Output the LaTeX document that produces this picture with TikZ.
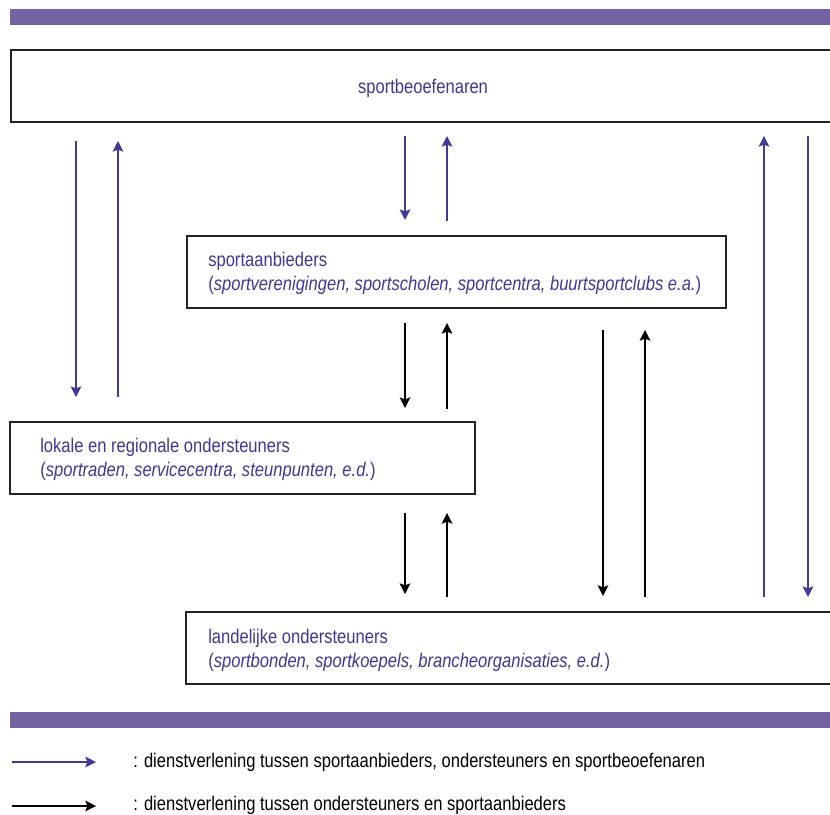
\documentclass[tikz,border=0pt]{standalone}
\usepackage{fontspec}
\setmainfont[FakeStretch=0.84]{Liberation Sans}
\usetikzlibrary{arrows.meta}
\definecolor{barpurple}{HTML}{7262A0}
\definecolor{txtpurple}{HTML}{3F3890}
\definecolor{arrpurple}{HTML}{433A94}
\definecolor{boxline}{HTML}{222222}
\begin{document}
\begin{tikzpicture}[x=0.75pt,y=-0.75pt,
  bar/.style={fill=barpurple,draw=none},
  box/.style={draw=boxline,line width=1.1pt},
  lbl/.style={text=txtpurple,font=\fontsize{14.8}{18}\selectfont,anchor=west,inner sep=0pt,align=left},
  leg/.style={text=black,font=\fontsize{14.8}{18}\selectfont,anchor=west,inner sep=0pt},
  tip/.style={-{Stealth[length=8pt,width=8pt,inset=1.5pt]}},
  parr/.style={tip,draw=arrpurple,line width=0.9pt},
  barr/.style={tip,draw=black,line width=0.9pt}]
\useasboundingbox (0,0) rectangle (830,814);
\clip (0,0) rectangle (830,814);
% bars
\fill[bar] (10,9) rectangle (835,25);
\fill[bar] (10,712) rectangle (835,728);
% boxes
\draw[box] (11,50) rectangle (840,122);
\draw[box] (187,236) rectangle (726,308);
\draw[box] (10,422) rectangle (475,494);
\draw[box] (186,612) rectangle (840,684);
% texts
\node[lbl,anchor=center] (sb) at (423,88) {sportbeoefenaren};
\node[lbl] (sa) at (208,273) {sportaanbieders\\(\textit{sportverenigingen, sportscholen, sportcentra, buurtsportclubs e.a.})};
\node[lbl] (lr) at (40,459) {lokale en regionale ondersteuners\\(\textit{sportraden, servicecentra, steunpunten, e.d.})};
\node[lbl] (lo) at (208,650) {landelijke ondersteuners\\(\textit{sportbonden, sportkoepels, brancheorganisaties, e.d.})};
% purple arrows
\coordinate (p1a) at (76,141); \coordinate (p1b) at (76,397);
\coordinate (p2a) at (118,397); \coordinate (p2b) at (118,141);
\coordinate (p3a) at (405,136); \coordinate (p3b) at (405,220);
\coordinate (p4a) at (447,221); \coordinate (p4b) at (447,136);
\coordinate (p5a) at (764,597); \coordinate (p5b) at (764,136);
\coordinate (p6a) at (808,136); \coordinate (p6b) at (808,597);
\draw[parr] (p1a) -- (p1b);
\draw[parr] (p2a) -- (p2b);
\draw[parr] (p3a) -- (p3b);
\draw[parr] (p4a) -- (p4b);
\draw[parr] (p5a) -- (p5b);
\draw[parr] (p6a) -- (p6b);
% black arrows
\coordinate (b1a) at (405,323); \coordinate (b1b) at (405,408);
\coordinate (b2a) at (447,409); \coordinate (b2b) at (447,323);
\coordinate (b3a) at (603,330); \coordinate (b3b) at (603,596);
\coordinate (b4a) at (645,597); \coordinate (b4b) at (645,330);
\coordinate (b5a) at (405,513); \coordinate (b5b) at (405,594);
\coordinate (b6a) at (447,597); \coordinate (b6b) at (447,513);
\draw[barr] (b1a) -- (b1b);
\draw[barr] (b2a) -- (b2b);
\draw[barr] (b3a) -- (b3b);
\draw[barr] (b4a) -- (b4b);
\draw[barr] (b5a) -- (b5b);
\draw[barr] (b6a) -- (b6b);
% legend
\coordinate (l1a) at (12,762); \coordinate (l1b) at (96,762);
\coordinate (l2a) at (12,806); \coordinate (l2b) at (96,806);
\draw[parr] (l1a) -- (l1b);
\draw[barr] (l2a) -- (l2b);
\node[leg] (t1) at (133,762) {: dienstverlening tussen sportaanbieders, ondersteuners en sportbeoefenaren};
\node[leg] (t2) at (133,805) {: dienstverlening tussen ondersteuners en sportaanbieders};
\end{tikzpicture}
\end{document}
